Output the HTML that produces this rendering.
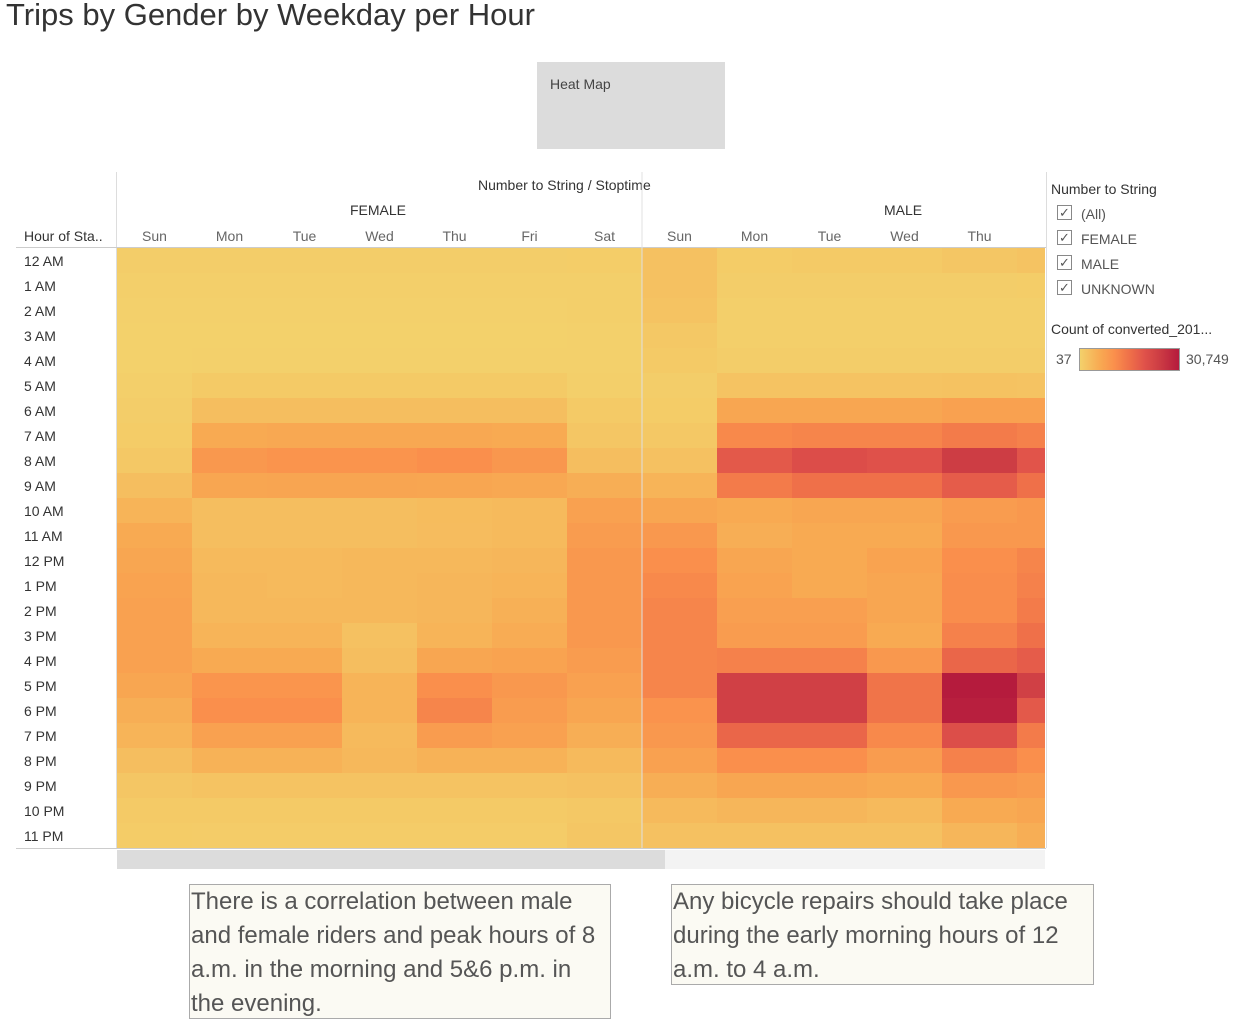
<!DOCTYPE html>
<html><head><meta charset="utf-8"><style>
body{margin:0;width:1249px;height:1031px;background:#fff;font-family:"Liberation Sans",sans-serif;position:relative;overflow:hidden;color:#333}
.a{position:absolute;white-space:nowrap}
.lbl{font-size:14px;color:#333}
.cb{position:absolute;width:15px;height:15px;border:1px solid #888;box-sizing:border-box;font-size:13px;line-height:13px;text-align:center;color:#555}
.note{position:absolute;background:#fbfaf3;border:1px solid #aaa;font-size:24px;line-height:34px;color:#555;padding:0 1px;box-sizing:border-box;white-space:normal}
</style></head><body>
<div class="a" style="left:6px;top:-3px;font-size:31px;color:#333">Trips by Gender by Weekday per Hour</div>
<div class="a" style="left:537px;top:62px;width:188px;height:87px;background:#dcdcdc"><span style="position:absolute;left:13px;top:14px;font-size:14px;color:#444">Heat Map</span></div>
<div class="a" style="left:478px;top:177px;font-size:14px">Number to String / Stoptime</div>
<div class="a lbl" style="left:350px;top:202px">FEMALE</div>
<div class="a lbl" style="left:884px;top:202px">MALE</div>
<div class="a lbl" style="left:24px;top:228px">Hour of Sta..</div>
<div class="a" style="left:116px;top:172px;width:1px;height:676px;background:#ddd"></div>
<div class="a" style="left:1046px;top:172px;width:1px;height:676px;background:#ddd"></div>
<div class="a" style="left:16px;top:247px;width:1030px;height:1px;background:#ccc"></div>
<div class="a" style="left:16px;top:848px;width:1030px;height:1px;background:#ccc"></div>
<svg class="a" id="hm" style="left:0;top:0" width="1249" height="1031"></svg>
<div class="a" style="left:117px;top:850px;width:928px;height:19px;background:#f3f3f3"></div>
<div class="a" style="left:117px;top:850px;width:548px;height:19px;background:#dcdcdc"></div>
<div class="a lbl" style="left:1051px;top:181px">Number to String</div>
<div class="cb" style="left:1057px;top:205px">✓</div><div class="a lbl" style="left:1081px;top:206px;color:#555">(All)</div>
<div class="cb" style="left:1057px;top:230px">✓</div><div class="a lbl" style="left:1081px;top:231px;color:#555">FEMALE</div>
<div class="cb" style="left:1057px;top:255px">✓</div><div class="a lbl" style="left:1081px;top:256px;color:#555">MALE</div>
<div class="cb" style="left:1057px;top:280px">✓</div><div class="a lbl" style="left:1081px;top:281px;color:#555">UNKNOWN</div>
<div class="a lbl" style="left:1051px;top:321px">Count of converted_201...</div>
<div class="a lbl" style="left:1056px;top:351px;color:#555">37</div>
<div class="a" style="left:1079px;top:348px;width:101px;height:23px;border:1px solid #999;box-sizing:border-box;background:linear-gradient(to right,#f3d16b,#f8aa52 20%,#fa8f4c 35%,#ef7049 50%,#e0524a 65%,#cd3d44 80%,#b51b3d)"></div>
<div class="a lbl" style="left:1186px;top:351px;color:#555">30,749</div>
<div class="note" style="left:189px;top:884px;width:422px;height:135px">There is a correlation between male and female riders and peak hours of 8 a.m. in the morning and 5&amp;6 p.m. in the evening.</div>
<div class="note" style="left:671px;top:884px;width:423px;height:101px">Any bicycle repairs should take place during the early morning hours of 12 a.m. to 4 a.m.</div>
<script>
const hours=["12 AM","1 AM","2 AM","3 AM","4 AM","5 AM","6 AM","7 AM","8 AM","9 AM","10 AM","11 AM","12 PM","1 PM","2 PM","3 PM","4 PM","5 PM","6 PM","7 PM","8 PM","9 PM","10 PM","11 PM"];
const days=["Sun","Mon","Tue","Wed","Thu","Fri","Sat","Sun","Mon","Tue","Wed","Thu","Fri"];
const minVal=37, maxVal=30749;
const femaleCounts=[
[600,600,600,600,600,600,700],[300,300,300,300,300,300,400],[150,150,150,150,150,150,300],[100,100,100,100,100,100,150],
[100,150,150,150,150,150,150],[300,1200,1200,1200,1200,1200,400],[600,3000,3000,3000,3000,3000,1200],[900,6200,6500,6500,6500,6200,1800],
[1500,9200,10000,10000,10800,9500,3000],[3000,6800,7000,7000,6800,6500,5500],[4600,3100,3100,3100,3400,3600,7700],[6200,3100,3100,3100,3300,3600,8600],
[6800,3700,3700,4000,4000,4300,9200],[7400,4000,3700,4000,4300,4600,9200],[7700,4000,4000,4000,4300,5200,9200],[7700,4600,4600,2500,4600,5800,9200],
[7700,6200,6200,3100,6800,7400,8600],[6800,9800,9800,4600,10800,9200,7700],[5500,10800,10800,4600,12300,8600,6800],[4600,7700,7700,3700,8600,7700,5500],
[3100,4900,4900,4000,4900,4900,3700],[1800,2200,2200,2200,2200,2200,2500],[1200,1200,1200,1200,1200,1200,1500],[900,800,800,800,800,800,1800]];
const maleCounts=[
[2500,900,1200,1200,1800,2200],[2500,600,600,600,600,700],[2200,300,300,300,300,400],[1500,300,300,300,300,300],
[1200,600,600,600,600,600],[600,2200,2200,2200,2400,2200],[900,6800,6800,6800,7700,7700],[1500,11700,12300,12300,13800,12900],
[2500,19000,21000,20300,24600,19700],[4600,13800,15400,15400,18500,15400],[6800,6200,6800,6800,8600,9200],[9200,5500,6200,6200,9200,9200],
[10800,6800,6200,7400,10800,12300],[11700,7400,6200,6800,11100,12900],[12300,8000,8000,6800,11100,13800],[12300,8600,8600,6200,12900,15400],
[12300,12900,12900,9200,16900,18500],[12300,24000,24000,14800,30749,24000],[10100,24000,24000,14800,30100,19000],[9200,16900,16900,11700,20900,13800],
[7700,10800,10800,8600,12900,10800],[5500,6800,6800,6200,9200,8600],[3700,4300,4300,3700,6200,6800],[2500,2500,2500,2500,4300,5500]];
const stops=[[0,[243,209,107]],[0.2,[248,170,82]],[0.35,[250,143,76]],[0.5,[239,112,73]],[0.65,[224,82,74]],[0.8,[205,61,68]],[1,[181,27,61]]];
function color(v){let t=Math.max(0,Math.min(1,(v-minVal)/(maxVal-minVal)));
for(let i=1;i<stops.length;i++){if(t<=stops[i][0]){const a=stops[i-1],b=stops[i],f=(t-a[0])/(b[0]-a[0]);
return 'rgb('+a[1].map((c,k)=>Math.round(c+(b[1][k]-c)*f)).join(',')+')';}}return 'rgb(181,27,61)';}
const x0=117,cw=75,y0=248,rh=25,xMax=1045;
function xPos(c){return x0+c*cw;} function yPos(r){return y0+r*rh;}
const svg=document.getElementById('hm'),NS='http://www.w3.org/2000/svg';
hours.forEach((h,r)=>{
  const row=femaleCounts[r].concat(maleCounts[r]);
  row.forEach((v,c)=>{
    const el=document.createElementNS(NS,'rect');
    const x=xPos(c),w=Math.min(cw,xMax-x);
    el.setAttribute('x',x);el.setAttribute('y',yPos(r));el.setAttribute('width',w);el.setAttribute('height',rh);
    el.setAttribute('fill',color(v));
    
    
    svg.appendChild(el);
  });
  const t=document.createElementNS(NS,'text');
  t.setAttribute('x',24);t.setAttribute('y',yPos(r)+18);t.setAttribute('font-size','14');t.setAttribute('fill','#333');
  t.textContent=h;
  
  
  svg.appendChild(t);
});
days.forEach((d,c)=>{
  if(xPos(c)+cw>xMax) return;
  const t=document.createElementNS(NS,'text');
  t.setAttribute('x',xPos(c)+cw/2);t.setAttribute('y',241);t.setAttribute('font-size','14');t.setAttribute('fill','#666');t.setAttribute('text-anchor','middle');
  t.textContent=d;
  
  
  svg.appendChild(t);
});
const sep=document.createElementNS(NS,'line');
sep.setAttribute('x1',xPos(7));sep.setAttribute('x2',xPos(7));sep.setAttribute('y1',172);sep.setAttribute('y2',848);sep.setAttribute('stroke','#e0e0e0');


svg.appendChild(sep);
</script>
</body></html>
